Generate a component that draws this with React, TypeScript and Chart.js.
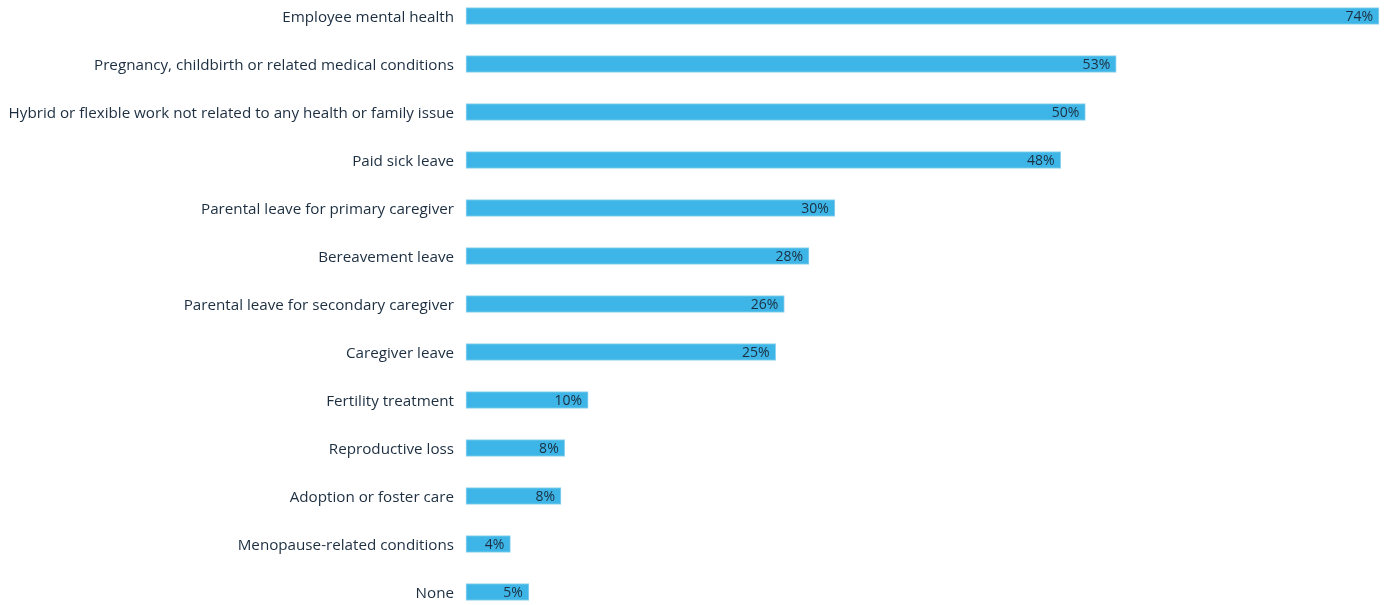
import React, { useEffect, useRef } from "react";
import { Chart, registerables } from "chart.js";

Chart.register(...registerables);

const categories = [
  "Employee mental health",
  "Pregnancy, childbirth or related medical conditions",
  "Hybrid or flexible work not related to any health or family issue",
  "Paid sick leave",
  "Parental leave for primary caregiver",
  "Bereavement leave",
  "Parental leave for secondary caregiver",
  "Caregiver leave",
  "Fertility treatment",
  "Reproductive loss",
  "Adoption or foster care",
  "Menopause-related conditions",
  "None",
];

const values = [74, 52.7, 50.2, 48.2, 29.9, 27.8, 25.8, 25.1, 9.9, 8.0, 7.7, 3.6, 5.1];
const valueLabels = ["74%", "53%", "50%", "48%", "30%", "28%", "26%", "25%", "10%", "8%", "8%", "4%", "5%"];

const FONT = "'Open Sans', sans-serif";
const TEXT = "#1c2e40";

const labelPlugin = {
  id: "barLabels",
  afterDatasetsDraw(chart: any) {
    const ctx = chart.ctx;
    const meta = chart.getDatasetMeta(0);
    ctx.save();
    ctx.font = `14px ${FONT}`;
    ctx.fillStyle = TEXT;
    ctx.textAlign = "right";
    ctx.textBaseline = "middle";
    meta.data.forEach((bar: any, i: number) => {
      ctx.fillText(valueLabels[i], bar.x - 6, bar.y + 1);
    });
    ctx.restore();
  },
};

export default function App() {
  const ref = useRef<HTMLCanvasElement>(null);
  useEffect(() => {
    document.body.style.margin = "0";
    const chart = new Chart(ref.current!, {
      type: "bar",
      data: {
        labels: categories,
        datasets: [
          {
            data: values,
            backgroundColor: "#3db5e6",
            borderColor: "#8fd2ef",
            borderWidth: 1,
            borderSkipped: false,
            barThickness: 17,
            clip: false as any,
          },
        ],
      },
      options: {
        indexAxis: "y",
        animation: false,
        responsive: false,
        layout: { padding: { top: 16, bottom: 13, right: 10, left: 0 } },
        plugins: { legend: { display: false }, tooltip: { enabled: false } },
        scales: {
          x: { display: false, min: 0, max: 74 },
          y: {
            offset: false,
            grid: { display: false, drawTicks: false },
            border: { display: false },
            ticks: {
              color: TEXT,
              font: { family: FONT, size: 15.2 },
              padding: 12,
              labelOffset: 1.5,
            },
            afterFit(scale: any) {
              scale.width = 466;
              scale.paddingTop = 0;
              scale.paddingBottom = 0;
            },
          },
        },
      },
      plugins: [labelPlugin],
    });
    return () => chart.destroy();
  }, []);
  return (
    <div style={{ width: 1389, height: 605 }}>
      <canvas ref={ref} width={1389} height={605} style={{ display: "block" }} />
    </div>
  );
}
